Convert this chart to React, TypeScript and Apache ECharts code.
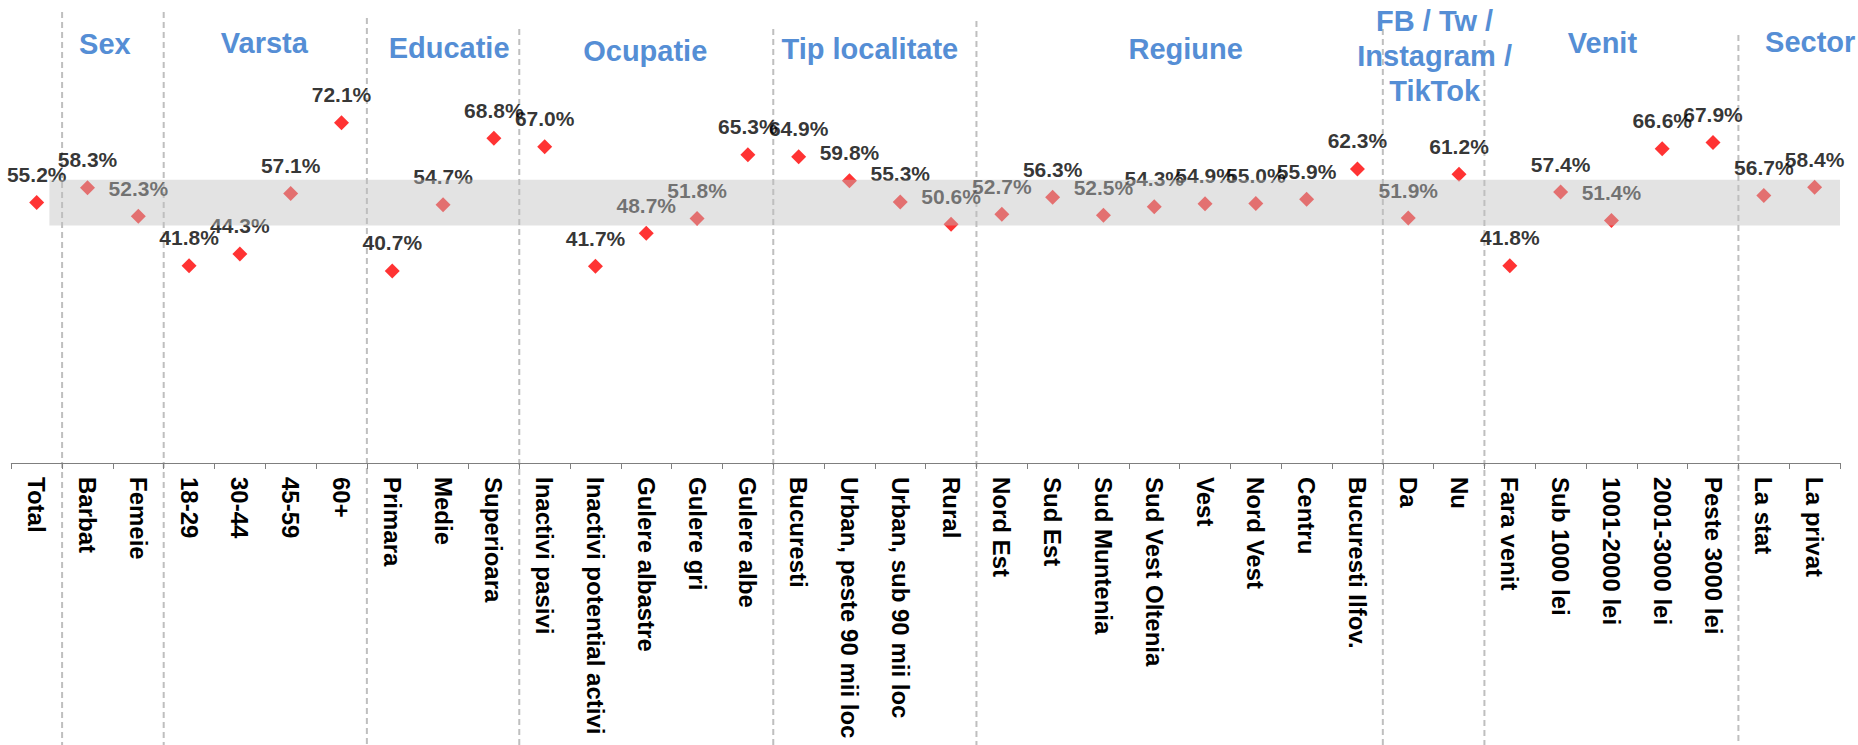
import React, { useEffect, useRef } from 'react';
import * as echarts from 'echarts';

const categories = [
  'Total', 'Barbat', 'Femeie', '18-29', '30-44', '45-59', '60+',
  'Primara', 'Medie', 'Superioara',
  'Inactivi pasivi', 'Inactivi potential activi', 'Gulere albastre', 'Gulere gri', 'Gulere albe',
  'Bucuresti', 'Urban, peste 90 mii loc', 'Urban, sub 90 mii loc', 'Rural',
  'Nord Est', 'Sud Est', 'Sud Muntenia', 'Sud Vest Oltenia', 'Vest', 'Nord Vest', 'Centru', 'Bucuresti Ilfov.',
  'Da', 'Nu',
  'Fara venit', 'Sub 1000 lei', '1001-2000 lei', '2001-3000 lei', 'Peste 3000 lei',
  'La stat', 'La privat',
];

const values = [
  55.2, 58.3, 52.3, 41.8, 44.3, 57.1, 72.1,
  40.7, 54.7, 68.8,
  67.0, 41.7, 48.7, 51.8, 65.3,
  64.9, 59.8, 55.3, 50.6,
  52.7, 56.3, 52.5, 54.3, 54.9, 55.0, 55.9, 62.3,
  51.9, 61.2,
  41.8, 57.4, 51.4, 66.6, 67.9,
  56.7, 58.4,
];

const groupTitles = ['Sex', 'Varsta', 'Educatie', 'Ocupatie', 'Tip localitate', 'Regiune', 'FB / Tw /\nInstagram /\nTikTok', 'Venit', 'Sector'];
const groupStart = [1, 3, 7, 10, 15, 19, 27, 29, 34];
const groupEnd = [2, 6, 9, 14, 18, 26, 28, 33, 35];

const bandLow = 50.3;
const bandHigh = 60.0;
const bandFromIndex = 0;
const bandToIndex = 35;

// styling (pixel offsets for decorative texts / lines)
const bandStartFrac = 0.25;
const titleDx = [-8, -1, 6, -1, -5, 6, 1, -9, 21];
const titleY = [43.8, 42.8, 48.3, 51.3, 49, 49, 56.4, 43.3, 41.7];
const lineTop = [12, 12, 18, 29, 29, 21, 29, 40, 35];

const FONT = '"Liberation Sans", Arial, Helvetica, sans-serif';

export default function App() {
  const ref = useRef<HTMLDivElement>(null);

  useEffect(() => {
    if (!ref.current) return;
    const chart = echarts.init(ref.current, null, { renderer: 'svg' });
    const option: any = {
      animation: false,
      tooltip: { show: false },
      grid: { left: 11.3, right: 18, top: 38.2, bottom: 282, containLabel: false },
      xAxis: {
        type: 'category',
        data: categories,
        boundaryGap: true,
        axisLine: { show: true, lineStyle: { color: '#7F7F7F', width: 1 } },
        axisTick: { show: true, length: 6, interval: 0, alignWithLabel: false, lineStyle: { color: '#7F7F7F', width: 1 } },
        axisLabel: {
          interval: 0,
          rotate: -90,
          margin: 14,
          color: '#000',
          fontSize: 24,
          fontWeight: 'bold',
          fontFamily: FONT,
        },
        splitLine: { show: false },
      },
      yAxis: { type: 'value', min: 0, max: 90, show: false, splitLine: { show: false } },
      series: [
        {
          type: 'scatter',
          data: values,
          symbol: 'diamond',
          symbolSize: 15,
          z: 2,
          itemStyle: { color: '#FF0000' },
          label: {
            show: true,
            position: 'top',
            distance: 10,
            formatter: (p: any) => Number(p.value).toFixed(1) + '%',
            color: '#000',
            fontSize: 21,
            fontWeight: 'bold',
            fontFamily: FONT,
          },
          emphasis: { disabled: true },
        },
        {
          type: 'custom',
          z: 5,
          silent: true,
          data: [[bandFromIndex, bandToIndex, bandLow, bandHigh]],
          renderItem: (params: any, api: any) => {
            const catW = api.size([1, 0])[0];
            const a = api.coord([api.value(0), api.value(3)]);
            const b = api.coord([api.value(1), api.value(2)]);
            const x0 = a[0] + bandStartFrac * catW;
            const x1 = b[0] + 0.5 * catW;
            return {
              type: 'rect',
              shape: { x: x0, y: a[1], width: x1 - x0, height: b[1] - a[1] },
              style: { fill: 'rgba(192,192,192,0.44)' },
            };
          },
        },
      ],
    };
    chart.setOption(option);

    const cx = (i: number) => chart.convertToPixel({ xAxisIndex: 0 }, i) as number;
    const graphics: any[] = [];
    groupTitles.forEach((t, g) => {
      const left = (cx(groupStart[g] - 1) + cx(groupStart[g])) / 2;
      const right = groupEnd[g] + 1 < categories.length
        ? (cx(groupEnd[g]) + cx(groupEnd[g] + 1)) / 2
        : cx(groupEnd[g]) + (cx(groupEnd[g]) - cx(groupEnd[g] - 1)) / 2;
      graphics.push({
        type: 'line',
        z: 0,
        silent: true,
        shape: { x1: left, y1: lineTop[g], x2: left, y2: 745 },
        style: { stroke: '#BFBFBF', lineWidth: 2, lineDash: [6, 4] },
      });
      graphics.push({
        type: 'text',
        z: 1,
        silent: true,
        x: (left + right) / 2 + titleDx[g],
        y: titleY[g],
        style: {
          text: t,
          fill: '#558ED5',
          fontSize: 29,
          fontWeight: 'bold',
          fontFamily: FONT,
          align: 'center',
          verticalAlign: 'middle',
          lineHeight: 35,
        },
      });
    });
    chart.setOption({ graphic: graphics });

    return () => chart.dispose();
  }, []);

  return (
    <div
      ref={ref}
      style={{ position: 'absolute', left: 0, top: 0, width: 1858, height: 745, background: '#fff' }}
    />
  );
}
